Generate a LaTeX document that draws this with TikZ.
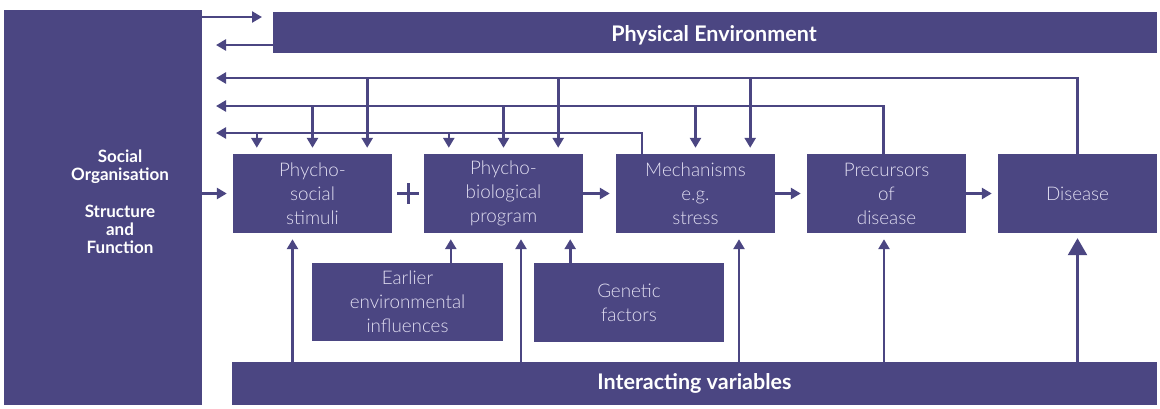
\documentclass[tikz,border=0pt]{standalone}
\usepackage{fontspec}
\setmainfont{Lato}
\newfontfamily\lightfont{Lato Light}
\usetikzlibrary{arrows.meta,calc}
\definecolor{pur}{HTML}{4B4682}
\definecolor{lav}{HTML}{E2DFF2}
\begin{document}
\begin{tikzpicture}[x=1pt,y=-1pt,
  box/.style={fill=pur, draw=none, inner sep=0pt, align=center, text=lav,
    font=\lightfont\fontsize{18.8}{24}\selectfont},
  bbox/.style={box, text=white, font=\fontsize{21.5}{22}\selectfont\bfseries},
  btext/.style={inner sep=0pt, align=center, text=white, font=\fontsize{17}{18.3}\selectfont\bfseries},
  mainbox/.style={box, minimum width=159pt, minimum height=79pt},
  arr/.style={draw=pur, line width=2.6pt, -{Triangle[length=10pt,width=11pt]}},
  bigarr/.style={draw=pur, line width=2.6pt, -{Triangle[length=17pt,width=19pt]}},
  plusst/.style={draw=pur, line width=3pt}
]
\useasboundingbox (0,0) rectangle (1160,408);

% boxes
\node[box, minimum width=198pt, minimum height=395pt] (soc) at (103,207.5) {};
\node[btext] (soct) at (120,202) {Social\\Organisation\\[18pt]Structure\\and\\Function};
\node[box, minimum width=884pt, minimum height=41pt] (phys) at (715,32.5) {};
\node[bbox, fill=none] (physt) at (714,35) {Physical Environment};
\node[mainbox] (ps) at (312.5,193.5) {Phycho-\\social\\stimuli};
\node[mainbox] (pb) at (503.5,193.5) {Phycho-\\biological\\program};
\node[mainbox] (mech) at (695.5,193.5) {Mechanisms\\e.g.\\stress};
\node[mainbox] (prec) at (886.5,193.5) {Precursors\\of\\disease};
\node[mainbox] (dis) at (1077.5,193.5) {Disease};
\node[box, minimum width=191pt, minimum height=78pt] (early) at (407.5,302) {Earlier\\environmental\\influences};
\node[box, minimum width=190pt, minimum height=79pt] (gen) at (629,302.5) {Genetic\\factors};
\node[bbox, minimum width=925pt, minimum height=43pt] (iv) at (694.5,383.5) {Interacting variables};

% physical environment arrows
\coordinate (pa) at (262,17);
\coordinate (pr) at (216,45);
\draw[arr] (soc.east |- pa) -- (pa);
\draw[arr] (phys.west |- pr) -- (pr);

% feedback lines
\coordinate (f1) at (216,78);
\coordinate (f2) at (216,106);
\coordinate (f3) at (216,133);
\coordinate (mtop) at ($(mech.north west)+(26,0)$);
\draw[arr] (dis.north) |- (f1);
\draw[arr] ($(prec.north)+(-3,0)$) |- (f2);
\draw[arr] (mtop) |- (f3);

\coordinate (psL) at ($(ps.north west)+(24,-6)$);
\coordinate (psC) at ($(ps.north)+(0,-6)$);
\coordinate (psR) at ($(ps.north east)+(-25,-6)$);
\coordinate (pbL) at ($(pb.north west)+(25,-6)$);
\coordinate (pbC) at ($(pb.north)+(0,-6)$);
\coordinate (pbR) at ($(pb.north east)+(-25,-6)$);
\coordinate (mC) at ($(mech.north)+(0,-6)$);
\coordinate (mR) at ($(mech.north east)+(-25,-6)$);
\draw[arr] (psL |- f3) -- (psL);
\draw[arr] (psC |- f2) -- (psC);
\draw[arr] (psR |- f1) -- (psR);
\draw[arr] (pbL |- f3) -- (pbL);
\draw[arr] (pbC |- f2) -- (pbC);
\draw[arr] (pbR |- f1) -- (pbR);
\draw[arr] (mC |- f2) -- (mC);
\draw[arr] (mR |- f1) -- (mR);

% flow arrows
\draw[arr, shorten >=6pt] (soc.east |- ps.west) -- (ps.west);
\draw[arr, shorten >=6pt] (pb.east) -- (mech.west);
\draw[arr, shorten >=6pt] (mech.east) -- (prec.west);
\draw[arr, shorten >=6pt] (prec.east) -- (dis.west);

% plus
\coordinate (plus) at ($(ps.east)!0.5!(pb.west)$);
\draw[plusst] ($(plus)+(-11,0)$) -- ($(plus)+(11,0)$);
\draw[plusst] ($(plus)+(0,-10.5)$) -- ($(plus)+(0,10.5)$);

% upward arrows
\coordinate (u1) at ($(ps.south)+(-20,6)$);
\coordinate (u2) at ($(pb.south)+(17.5,6)$);
\coordinate (u3) at ($(mech.south)+(43.5,6)$);
\coordinate (u4) at ($(prec.south)+(-2.5,6)$);
\coordinate (u5) at ($(dis.south)+(0,5)$);
\coordinate (e1) at ($(pb.south west)+(27,6)$);
\coordinate (g1) at ($(pb.south east)+(-13,6)$);
\draw[arr] (iv.north -| u1) -- (u1);
\draw[arr] (iv.north -| u2) -- (u2);
\draw[arr] (iv.north -| u3) -- (u3);
\draw[arr] (iv.north -| u4) -- (u4);
\draw[bigarr] (iv.north -| u5) -- (u5);
\draw[arr] (early.north -| e1) -- (e1);
\draw[arr] (gen.north -| g1) -- (g1);
\end{tikzpicture}
\end{document}
